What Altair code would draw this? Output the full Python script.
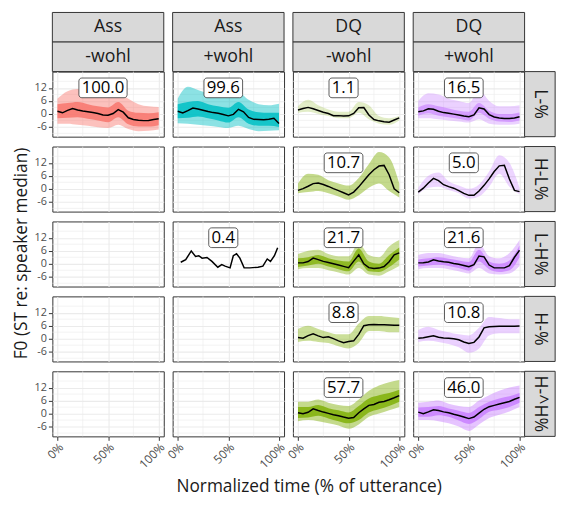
import altair as alt
import pandas as pd

FONT = "Open Sans"

# ---------------- facet labels ----------------
TOP_LABELS = ["Ass", "Ass", "DQ", "DQ"]
SUB_LABELS = ["-wohl", "+wohl", "-wohl", "+wohl"]
ROW_LABELS = ["L-%", "H-L%", "L-H%", "H-%", "H-^H%"]
COLORS = ["#F8766D", "#00BFC4", "#7CAE00", "#C77CFF"]
X_TITLE = "Normalized time (% of utterance)"
Y_TITLE = "F0 (ST re: speaker median)"

# time grids (% of utterance)
T21 = [0, 5, 10, 15, 20, 25, 30, 35, 40, 45, 50, 55, 60, 65, 70, 75, 80, 85, 90, 95, 100]
T11 = [0, 10, 20, 30, 40, 50, 60, 70, 80, 90, 100]

# tick values (major) and minor grid values
X_MAJOR = [0, 50, 100]
X_MINOR = [25, 75]
Y_MAJOR = [-6, 0, 6, 12]
Y_MINOR = [-9, -3, 3, 9, 15]

# ---------------- L-% : Ass -wohl ----------------
A_MEAN = [1.2, 0.5, 1.6, 2.5, 1.8, 1.3, 1.0, 0.6, 0.2, -0.5, -0.6, 0.2, 2.0, 0.8, -1.8, -2.6, -2.9, -3.1, -3.0, -2.6, -2.2]
A_OUT_HI = [7.0, 10.5, 11.5, 9.5, 8.5, 8.5, 9.5, 7.0, 4.5, 3.5, 3.2]
A_OUT_LO = [-4.5, -4.5, -5.0, -5.5, -6.2, -6.5, -5.0, -7.0, -8.0, -7.8, -7.2]
A_IN_HI = [4.5, 5.0, 5.5, 4.5, 3.5, 3.0, 5.5, 1.5, 0.5, 0.3, 0.8]
A_IN_LO = [-2.0, -1.8, -1.5, -2.2, -3.0, -3.8, -1.5, -4.8, -5.8, -5.8, -5.2]

# ---------------- L-% : Ass +wohl ----------------
B_MEAN = [1.2, 0.4, 1.5, 2.7, 2.3, 1.7, 1.1, 0.6, 0.3, -0.3, -0.9, -0.2, 2.1, 1.0, -1.6, -2.5, -2.6, -2.7, -2.5, -2.0, -4.4]
B_OUT_HI = [7.0, 12.5, 11.0, 9.5, 8.2, 7.8, 9.8, 6.5, 4.5, 4.0, 4.7]
B_OUT_LO = [-4.3, -4.5, -5.0, -5.5, -6.0, -6.5, -5.5, -7.0, -8.0, -7.8, -7.5]
B_IN_HI = [4.5, 5.5, 6.0, 4.5, 3.5, 2.8, 5.5, 2.0, 0.8, 0.5, 0.5]
B_IN_LO = [-2.0, -1.8, -1.2, -2.0, -3.0, -4.0, -1.5, -4.5, -5.5, -5.5, -6.0]

# ---------------- L-% : DQ -wohl ----------------
C_MEAN = [1.8, 2.5, 3.0, 2.4, 1.6, 0.8, 0.2, -0.8, -0.8, -1.0, -0.9, 0.2, 2.8, 2.9, -0.5, -2.6, -3.2, -3.6, -3.8, -2.8, -1.8]
C_OUT_HI = [3.5, 6.5, 4.0, 2.0, 1.0, 1.0, 5.5, 4.0, -1.0, -2.0, -1.0]
C_OUT_LO = [0.5, 1.0, 0.0, -1.0, -2.0, -2.0, 0.5, -2.5, -4.5, -5.0, -3.0]

# ---------------- L-% : DQ +wohl ----------------
D_MEAN = [1.0, 1.4, 2.4, 2.1, 1.2, 0.6, 0.3, -0.1, -0.5, -1.0, -1.3, -0.5, 2.8, 2.3, -0.3, -1.4, -1.9, -2.1, -2.1, -1.9, -1.3]
D_OUT_HI = [6.0, 9.5, 9.0, 7.0, 6.0, 5.0, 11.0, 6.0, 3.5, 3.5, 4.0]
D_OUT_LO = [-2.0, -2.0, -2.5, -3.0, -3.5, -4.0, -2.5, -4.5, -5.0, -5.0, -4.5]
D_IN_HI = [3.0, 4.5, 3.5, 2.5, 1.5, 1.0, 5.0, 1.5, 0.0, 0.0, 0.7]
D_IN_LO = [-0.8, 0.3, -0.8, -1.5, -2.2, -3.0, 0.5, -2.2, -3.5, -3.7, -3.0]

# ---------------- H-L% : DQ -wohl ----------------
E_MEAN = [-0.7, 0.1, 1.2, 2.4, 2.7, 2.0, 1.1, 0.1, -0.8, -1.8, -2.8, -1.5, 0.9, 3.7, 6.5, 8.8, 10.5, 10.8, 6.5, 0.0, -1.8]
E_OUT_HI = [2.5, 7.0, 6.5, 4.0, 2.5, 1.5, 5.0, 11.5, 17.0, 14.5, 2.5]
E_OUT_LO = [-2.0, -1.5, -1.0, -2.0, -3.5, -5.0, -3.0, 0.5, 2.5, -1.0, -4.0]

# ---------------- H-L% : DQ +wohl ----------------
F_MEAN = [-1.5, 0.3, 2.7, 4.8, 3.8, 1.9, 1.0, 0.3, -0.8, -2.1, -3.0, -3.0, -1.0, 1.6, 4.6, 8.0, 10.6, 10.9, 4.5, -0.7, -1.3]
F_OUT_HI = [0.5, 6.0, 7.5, 3.5, 1.5, 0.0, 2.0, 8.0, 15.5, 12.0, 0.5]
F_OUT_LO = [-2.5, 0.5, 1.0, -0.5, -2.0, -4.5, -3.5, 1.0, 7.0, 1.0, -2.5]

# ---------------- L-H% : Ass +wohl (single contour) ----------------
G_T = [3.0, 7.9, 13.4, 17.6, 20.8, 24.1, 28.9, 33.8, 39.6, 43.5, 46.8, 51.7, 54.9, 58.1, 61.4, 65.6, 71.2, 79.3, 84.1, 88.4, 91.6, 95.5, 98.7]
G_MEAN = [0.7, 1.9, 5.9, 3.4, 3.7, 2.6, 2.9, 1.1, -1.6, -0.4, -1.1, -1.9, 3.7, 4.6, 2.6, -1.9, -1.9, -1.6, -1.1, 2.2, 1.1, 3.7, 7.4]

# ---------------- L-H% : DQ -wohl ----------------
H_MEAN = [0.4, 0.4, 1.0, 2.6, 1.9, 1.1, 0.6, 0.0, -0.6, -1.2, -1.8, 1.2, 4.1, 0.0, -1.8, -2.2, -2.0, -1.3, 0.9, 4.1, 5.0]
H_OUT_HI = [4.5, 6.0, 6.5, 4.5, 3.5, 3.5, 9.5, 4.0, 3.0, 8.0, 11.0]
H_OUT_LO = [-2.5, -2.0, -2.0, -3.0, -4.0, -5.0, -2.0, -5.0, -5.5, -3.5, -1.0]
H_IN_HI = [2.5, 3.0, 4.0, 2.5, 1.5, 1.0, 7.0, 1.0, 0.0, 4.0, 7.5]
H_IN_LO = [-1.5, -0.8, 0.0, -1.3, -2.5, -3.5, 1.0, -3.5, -3.8, -1.5, 2.0]

# ---------------- L-H% : DQ +wohl ----------------
I_MEAN = [0.4, 0.5, 0.8, 1.8, 1.3, 0.9, 0.7, 0.1, -0.2, -0.8, -1.4, -0.4, 3.6, 3.2, -0.6, -1.9, -1.9, -1.9, -0.9, 3.0, 6.2]
I_OUT_HI = [4.0, 5.0, 5.0, 4.0, 3.0, 2.5, 9.5, 3.5, 2.5, 5.0, 11.0]
I_OUT_LO = [-2.5, -2.0, -2.0, -2.5, -3.5, -4.5, -2.0, -4.5, -5.0, -4.5, -1.0]
I_IN_HI = [2.0, 2.5, 3.0, 2.3, 1.5, 0.8, 6.5, 1.0, 0.0, 1.5, 8.5]
I_IN_LO = [-1.3, -0.8, -0.5, -1.0, -2.0, -3.2, 1.0, -2.5, -3.8, -3.0, 3.0]

# ---------------- H-% : DQ -wohl ----------------
J_MEAN = [0.5, 0.2, 1.4, 2.2, 1.3, 0.5, 0.9, 0.0, -1.0, -1.9, -1.3, -1.0, 2.0, 6.0, 6.4, 6.5, 6.4, 6.4, 6.3, 6.2, 6.2]
J_OUT_HI = [4.5, 6.0, 4.5, 3.0, 2.0, 2.0, 7.0, 10.5, 10.5, 10.0, 9.5]
J_OUT_LO = [-1.5, -1.0, -1.5, -2.0, -3.5, -4.5, -2.0, 3.5, 3.5, 3.0, 3.0]

# ---------------- H-% : DQ +wohl ----------------
K_MEAN = [0.2, 0.4, 0.9, 1.3, 0.7, 0.3, 0.2, 0.0, -0.5, -1.5, -2.2, -1.7, 0.8, 5.0, 5.5, 5.6, 5.7, 5.7, 5.7, 5.7, 5.8]
K_OUT_HI = [4.0, 5.5, 4.0, 3.0, 2.0, 1.5, 5.0, 10.0, 9.5, 9.0, 9.0]
K_OUT_LO = [-1.5, -1.0, -1.5, -2.5, -4.0, -6.5, -4.5, 1.5, 2.5, 2.5, 2.5]

# ---------------- H-^H% : DQ -wohl ----------------
L_MEAN = [0.4, -0.1, 0.6, 2.2, 1.4, 0.7, 0.1, -0.5, -1.0, -1.6, -2.1, -1.8, 0.4, 2.2, 3.8, 4.2, 5.2, 5.6, 6.4, 7.3, 8.3]
L_OUT_HI = [5.5, 5.5, 6.5, 5.0, 4.0, 3.5, 6.5, 10.5, 13.0, 14.5, 15.5]
L_OUT_LO = [-3.5, -3.0, -3.5, -4.5, -5.5, -7.0, -5.0, -1.5, 0.0, 1.5, 3.0]
L_IN_HI = [3.0, 3.0, 4.0, 2.5, 1.5, 0.5, 3.5, 7.0, 8.5, 9.5, 11.0]
L_IN_LO = [-2.0, -1.8, -1.0, -2.2, -3.5, -4.5, -3.0, 0.5, 2.0, 3.5, 5.5]

# ---------------- H-^H% : DQ +wohl ----------------
M_MEAN = [0.7, 0.0, 0.8, 1.8, 1.4, 0.8, 0.4, -0.3, -0.9, -1.6, -2.3, -1.6, 0.2, 2.0, 3.2, 3.8, 4.4, 5.0, 5.6, 6.6, 7.5]
M_OUT_HI = [5.0, 5.5, 6.0, 4.5, 3.5, 3.0, 6.0, 8.5, 10.5, 12.0, 13.0]
M_OUT_LO = [-3.0, -3.0, -3.5, -4.5, -6.0, -8.0, -5.0, -2.0, -0.5, 1.0, 3.0]
M_IN_HI = [2.8, 3.0, 3.5, 2.3, 1.3, 0.3, 3.0, 5.5, 7.0, 8.0, 9.5]
M_IN_LO = [-1.5, -1.5, -0.8, -1.5, -3.2, -4.8, -2.5, 0.8, 1.8, 3.0, 5.0]

# percentage labels (geom_label) and their position in data units
LABEL_T = 45
LABEL_F0 = 12

# panel registry: (row, col) -> (label, mean t, mean y, outer hi, outer lo, inner hi, inner lo)
PANELS = {
    (0, 0): ("100.0", T21, A_MEAN, A_OUT_HI, A_OUT_LO, A_IN_HI, A_IN_LO),
    (0, 1): ("99.6", T21, B_MEAN, B_OUT_HI, B_OUT_LO, B_IN_HI, B_IN_LO),
    (0, 2): ("1.1", T21, C_MEAN, C_OUT_HI, C_OUT_LO, None, None),
    (0, 3): ("16.5", T21, D_MEAN, D_OUT_HI, D_OUT_LO, D_IN_HI, D_IN_LO),
    (1, 2): ("10.7", T21, E_MEAN, E_OUT_HI, E_OUT_LO, None, None),
    (1, 3): ("5.0", T21, F_MEAN, F_OUT_HI, F_OUT_LO, None, None),
    (2, 1): ("0.4", G_T, G_MEAN, None, None, None, None),
    (2, 2): ("21.7", T21, H_MEAN, H_OUT_HI, H_OUT_LO, H_IN_HI, H_IN_LO),
    (2, 3): ("21.6", T21, I_MEAN, I_OUT_HI, I_OUT_LO, I_IN_HI, I_IN_LO),
    (3, 2): ("8.8", T21, J_MEAN, J_OUT_HI, J_OUT_LO, None, None),
    (3, 3): ("10.8", T21, K_MEAN, K_OUT_HI, K_OUT_LO, None, None),
    (4, 2): ("57.7", T21, L_MEAN, L_OUT_HI, L_OUT_LO, L_IN_HI, L_IN_LO),
    (4, 3): ("46.0", T21, M_MEAN, M_OUT_HI, M_OUT_LO, M_IN_HI, M_IN_LO),
}
# band opacities (outer, inner) - styling only
BAND_ALPHA = {
    (0, 0): (0.45, 0.85), (0, 1): (0.45, 0.85), (0, 2): (0.22, 0), (0, 3): (0.35, 0.6),
    (1, 2): (0.45, 0), (1, 3): (0.32, 0), (2, 2): (0.4, 0.75), (2, 3): (0.4, 0.75),
    (3, 2): (0.4, 0), (3, 3): (0.35, 0), (4, 2): (0.45, 0.8), (4, 3): (0.45, 0.8),
}

PW, PH = 113, 66          # panel size
SPX, SPY = 9, 10           # panel spacing
STRIP_H = 30
STRIP_W = 31
GRID_COL = "#EBEBEB"

X_SCALE = alt.Scale(domain=[-5, 105], nice=False, zero=False)
Y_SCALE = alt.Scale(domain=[-10.5, 19.5], nice=False, zero=False)


def x_axis(show):
    d = dict(values=X_MAJOR, grid=True, gridColor=GRID_COL, gridWidth=1.1,
             domain=False, title=None, labelOverlap=False)
    if show:
        d.update(labels=True, labelExpr="datum.value + '%'",
                 ticks=True, tickSize=4, tickColor="#333333",
                 labelAngle=-45, labelAlign="right", labelBaseline="top",
                 labelFontSize=12, labelColor="#4D4D4D", labelPadding=1)
    else:
        d.update(labels=False, ticks=False)
    return alt.Axis(**d)


def y_axis(show):
    d = dict(values=Y_MAJOR, grid=True, gridColor=GRID_COL, gridWidth=1.1,
             domain=False, title=None, labelOverlap=False)
    if show:
        d.update(labels=True, labelExpr="'' + datum.value",
                 ticks=True, tickSize=4, tickColor="#333333",
                 labelFontSize=11, labelColor="#4D4D4D", labelPadding=2)
    else:
        d.update(labels=False, ticks=False)
    return alt.Axis(**d)


def label_px(s):
    return sum(4.6 if ch == "." else 9.7 for ch in s) + 5.5


def panel(r, c):
    xa, ya = x_axis(r == 4), y_axis(c == 0)

    def X(f):
        return alt.X(f, type="quantitative", scale=X_SCALE, axis=xa)

    def Y(f):
        return alt.Y(f, type="quantitative", scale=Y_SCALE, axis=ya)

    layers = [
        alt.Chart(pd.DataFrame({"t": [0.0], "f": [0.0]})).mark_point(opacity=0).encode(x=X("t"), y=Y("f")),
        alt.Chart(pd.DataFrame({"t": X_MINOR})).mark_rule(color=GRID_COL, strokeWidth=0.6).encode(x=X("t")),
        alt.Chart(pd.DataFrame({"f": Y_MINOR})).mark_rule(color=GRID_COL, strokeWidth=0.6).encode(y=Y("f")),
    ]
    if (r, c) in PANELS:
        lab, mt, my, ohi, olo, ihi, ilo = PANELS[(r, c)]
        col = COLORS[c]
        a_out, a_in = BAND_ALPHA.get((r, c), (0, 0))
        if ohi is not None:
            dfo = pd.DataFrame({"t": T11, "hi": ohi, "lo": olo})
            layers.append(alt.Chart(dfo).mark_area(color=col, opacity=a_out, interpolate="monotone", clip=True)
                          .encode(x=X("t"), y=Y("lo"), y2=alt.Y2("hi")))
        if ihi is not None:
            dfi = pd.DataFrame({"t": T11, "hi": ihi, "lo": ilo})
            layers.append(alt.Chart(dfi).mark_area(color=col, opacity=a_in, interpolate="monotone", clip=True)
                          .encode(x=X("t"), y=Y("lo"), y2=alt.Y2("hi")))
        dfm = pd.DataFrame({"t": mt, "f": my})
        layers.append(alt.Chart(dfm).mark_line(color="black", strokeWidth=1.5, clip=True)
                      .encode(x=X("t"), y=Y("f")))
        dfl = pd.DataFrame({"t": [LABEL_T], "f": [LABEL_F0], "lab": [lab]})
        w = label_px(lab)
        layers.append(alt.Chart(dfl).mark_rect(fill="white", stroke="#333333", strokeWidth=0.8,
                                               cornerRadius=3, xOffset=-w / 2, x2Offset=w / 2,
                                               yOffset=-10, y2Offset=10)
                      .encode(x=X("t"), x2=alt.X2("t"), y=Y("f"), y2=alt.Y2("f")))
        layers.append(alt.Chart(dfl).mark_text(fontSize=17, color="black", align="center",
                                               baseline="middle", fontWeight="normal")
                      .encode(x=X("t"), y=Y("f"), text="lab:N"))
    return alt.layer(*layers).properties(width=PW, height=PH)


def header(c):
    d = pd.DataFrame({"top": [TOP_LABELS[c]], "sub": [SUB_LABELS[c]]})
    r1 = alt.Chart(d).mark_rect(fill="#D9D9D9", stroke="#333333", strokeWidth=1).encode(
        x=alt.value(0), x2=alt.value(PW), y=alt.value(0), y2=alt.value(STRIP_H))
    r2 = alt.Chart(d).mark_rect(fill="#D9D9D9", stroke="#333333", strokeWidth=1).encode(
        x=alt.value(0), x2=alt.value(PW), y=alt.value(STRIP_H), y2=alt.value(2 * STRIP_H))
    t1 = alt.Chart(d).mark_text(fontSize=18, color="#1A1A1A", fontWeight="normal").encode(
        x=alt.value(PW / 2), y=alt.value(STRIP_H / 2), text="top:N")
    t2 = alt.Chart(d).mark_text(fontSize=18, color="#1A1A1A", fontWeight="normal").encode(
        x=alt.value(PW / 2), y=alt.value(STRIP_H * 1.5), text="sub:N")
    return alt.layer(r1, r2, t1, t2).properties(
        width=PW, height=2 * STRIP_H - SPY, view=alt.ViewBackground(stroke="transparent"))


def corner():
    return alt.Chart(pd.DataFrame({"a": [0]})).mark_point(opacity=0, size=1).encode(
        x=alt.value(0), y=alt.value(0)).properties(
        width=STRIP_W - SPX, height=2 * STRIP_H - SPY, view=alt.ViewBackground(stroke="transparent"))


def row_strip(r):
    d = pd.DataFrame({"lab": [ROW_LABELS[r]]})
    rect = alt.Chart(d).mark_rect(fill="#D9D9D9", stroke="#333333", strokeWidth=1).encode(
        x=alt.value(-SPX), x2=alt.value(STRIP_W - SPX), y=alt.value(0), y2=alt.value(PH))
    txt = alt.Chart(d).mark_text(angle=90, fontSize=18, color="#1A1A1A", fontWeight="normal").encode(
        x=alt.value((STRIP_W - 2 * SPX) / 2), y=alt.value(PH / 2), text="lab:N")
    return alt.layer(rect, txt).properties(
        width=STRIP_W - SPX, height=PH, view=alt.ViewBackground(stroke="transparent"))


cells = [header(c) for c in range(4)] + [corner()]
for r in range(5):
    cells += [panel(r, c) for c in range(4)] + [row_strip(r)]

grid = alt.concat(*cells, columns=5, spacing={"row": SPY, "column": SPX},
                  bounds="flush", align="each")

xtitle = alt.Chart(pd.DataFrame({"v": [0.0]})).mark_point(opacity=0, size=1).encode(
    x=alt.X("v:Q", axis=alt.Axis(title=X_TITLE, labels=False, ticks=False, domain=False, grid=False,
                                 titleFontSize=17.5, titleFontWeight="normal", titleColor="#1A1A1A",
                                 titlePadding=5)),
).properties(width=520, height=1, view=alt.ViewBackground(stroke="transparent"))

chart = alt.vconcat(grid, xtitle, spacing=0).properties(
    title=alt.TitleParams(Y_TITLE, orient="left", anchor="middle", fontSize=17.5,
                          fontWeight="normal", color="#1A1A1A", offset=3),
    padding={"left": 5, "top": 0, "right": 0, "bottom": 0},
).configure(font=FONT).configure_view(stroke="#333333", strokeWidth=1)

chart.save("out.html", embed_options={"renderer": "svg", "actions": False})
